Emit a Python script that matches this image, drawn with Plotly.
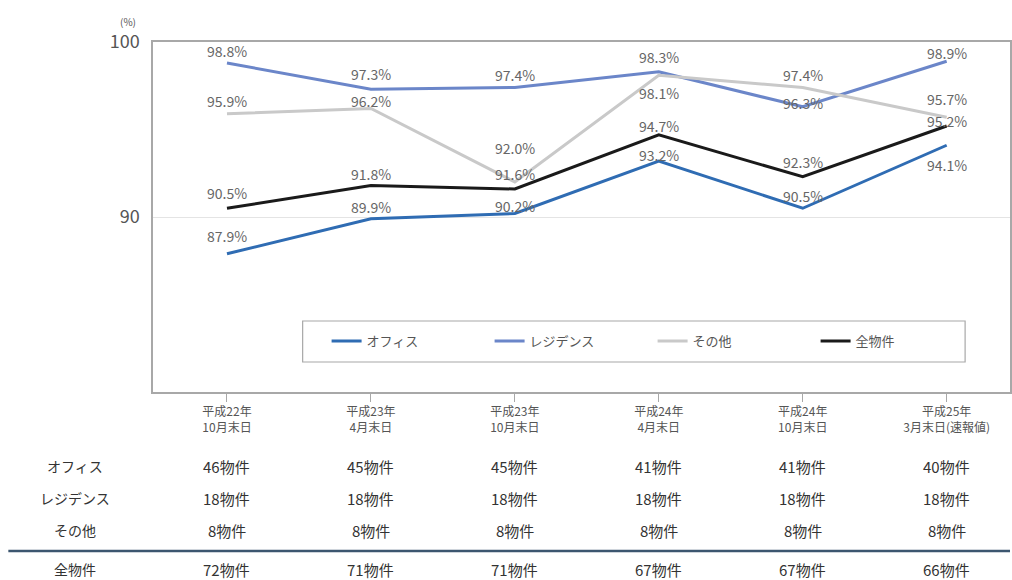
import plotly.graph_objects as go

# Occupancy rate by property type (%)
periods = ["平成22年<br>10月末日", "平成23年<br>4月末日", "平成23年<br>10月末日",
           "平成24年<br>4月末日", "平成24年<br>10月末日", "平成25年<br>3月末日(速報値)"]
office = [87.9, 89.9, 90.2, 93.2, 90.5, 94.1]
residence = [98.8, 97.3, 97.4, 98.3, 96.3, 98.9]
other = [95.9, 96.2, 92.0, 98.1, 97.4, 95.7]
total = [90.5, 91.8, 91.6, 94.7, 92.3, 95.2]

# Number of properties per period
row_names = ["オフィス", "レジデンス", "その他", "全物件"]
count_office = [46, 45, 45, 41, 41, 40]
count_residence = [18, 18, 18, 18, 18, 18]
count_other = [8, 8, 8, 8, 8, 8]
count_total = [72, 71, 71, 67, 67, 66]

W, H = 1012, 580
L, R, T, B = 153, 0, 42, 188
PW, PH = W - L - R, H - T - B


def px(x):
    return (x - L) / PW


def py(y):
    return (H - B - y) / PH


FONT = "Noto Sans CJK JP, Noto Sans, sans-serif"
TXT = "#555555"

series = [
    ("オフィス", office, "#2f6cb3"),
    ("レジデンス", residence, "#6b86c9"),
    ("その他", other, "#c9c9c9"),
    ("全物件", total, "#1a1a1a"),
]

# vertical offset (px, up positive) of each value label
label_shift = {
    "オフィス": [18, 12, 8, 6, 12, -20],
    "レジデンス": [12, 15, 13, 15, 4, 8],
    "その他": [13, 8, 34, -18, 13, 18],
    "全物件": [15, 12, 15, 9, 15, 5],
}

xs = list(range(len(periods)))
fig = go.Figure()
for name, vals, color in series:
    fig.add_trace(go.Scatter(x=xs, y=vals, mode="lines", name=name,
                             line=dict(color=color, width=3)))

ann = []
for name, vals, color in series:
    for i, v in enumerate(vals):
        ann.append(dict(x=i, y=v, xref="x", yref="y", text=f"{v:.1f}%",
                        showarrow=False, yshift=label_shift[name][i],
                        xanchor="center", yanchor="middle",
                        font=dict(family=FONT, size=14, color="#666666")))

ann.append(dict(x=px(128), y=py(22), xref="paper", yref="paper", text="(%)",
                showarrow=False, xanchor="center", yanchor="middle",
                font=dict(family=FONT, size=10, color=TXT)))

# property count table
counts = [count_office, count_residence, count_other, count_total]
row_y = [466, 498, 530, 569]
for name, cnt, ry in zip(row_names, counts, row_y):
    ann.append(dict(x=px(75), y=py(ry), xref="paper", yref="paper", text=name,
                    showarrow=False, xanchor="center", yanchor="middle",
                    font=dict(family=FONT, size=14, color="#333333")))
    for i, c in enumerate(cnt):
        ann.append(dict(x=i, y=py(ry), xref="x", yref="paper", text=f"{c}物件",
                        showarrow=False, xanchor="center", yanchor="middle",
                        font=dict(family=FONT, size=15, color="#333333")))

shapes = [
    dict(type="line", xref="paper", yref="paper", x0=px(8), x1=px(W), y0=py(551), y1=py(551),
         line=dict(color="#3c566f", width=2.5)),
    dict(type="rect", xref="paper", yref="paper", x0=px(303), x1=px(967), y0=py(321), y1=py(362),
         line=dict(color="#a8a8a8", width=1.2), fillcolor="white", layer="below"),
]

fig.update_layout(
    width=W, height=H,
    margin=dict(l=L, r=R, t=T, b=B),
    paper_bgcolor="white", plot_bgcolor="white",
    showlegend=True,
    legend=dict(orientation="h", x=px(327), y=py(341), xanchor="left", yanchor="middle",
                bgcolor="rgba(0,0,0,0)", borderwidth=0,
                entrywidth=118, entrywidthmode="pixels",
                font=dict(family=FONT, size=13, color=TXT)),
    annotations=ann,
    shapes=shapes,
    xaxis=dict(range=[-0.514, 5.44], tickvals=xs, ticktext=periods,
               showgrid=False, zeroline=False, showline=True, linecolor="#a8a8a8", linewidth=1.5,
               mirror=True, ticks="outside", ticklen=8, tickcolor="#a8a8a8",
               tickfont=dict(family=FONT, size=12, color=TXT), fixedrange=True),
    yaxis=dict(range=[80, 100], tickvals=[90, 100], showgrid=True, gridcolor="#e4e4e4",
               zeroline=False, showline=True, linecolor="#a8a8a8", linewidth=1.5, mirror=True,
               ticks="", ticklabelstandoff=8,
               tickfont=dict(family=FONT, size=18, color=TXT), fixedrange=True),
)

fig.write_html("out.html")
